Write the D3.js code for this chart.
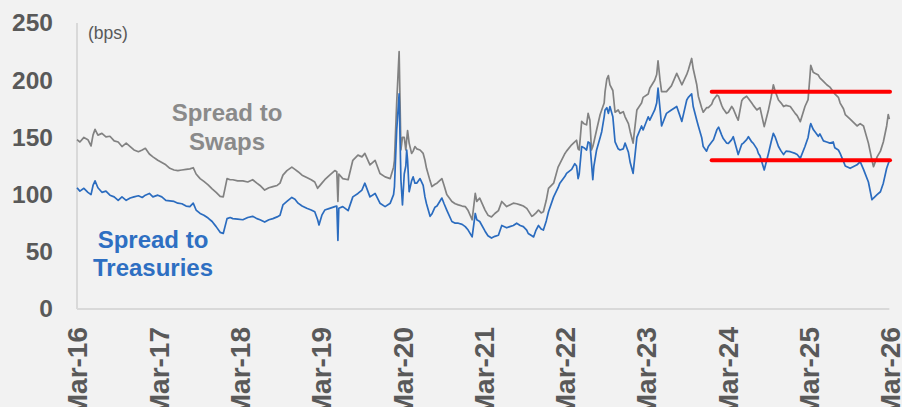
<!DOCTYPE html>
<html><head><meta charset="utf-8">
<script src="https://cdn.jsdelivr.net/npm/d3@7"></script>
<style>
html,body{margin:0;padding:0;background:#f2f2f2;}
svg{display:block;font-family:"Liberation Sans",Arial,sans-serif;}
</style></head>
<body><svg id="c" width="902" height="407"></svg>
<script>
const dates = ["2016-03-31","2016-04-13","2016-05-01","2016-05-19","2016-06-02","2016-06-11","2016-06-20","2016-07-03","2016-07-21","2016-08-08","2016-08-26","2016-09-14","2016-10-02","2016-10-19","2016-11-07","2016-11-25","2016-12-12","2017-01-01","2017-01-18","2017-02-01","2017-02-19","2017-03-07","2017-03-29","2017-04-16","2017-05-04","2017-05-22","2017-06-10","2017-06-27","2017-07-15","2017-08-03","2017-08-20","2017-09-04","2017-09-17","2017-10-05","2017-10-22","2017-11-10","2017-11-28","2017-12-16","2018-01-03","2018-01-17","2018-02-03","2018-02-17","2018-03-01","2018-03-23","2018-04-15","2018-05-07","2018-05-29","2018-06-17","2018-07-01","2018-07-22","2018-08-10","2018-08-28","2018-09-16","2018-09-29","2018-10-12","2018-10-30","2018-11-21","2018-12-05","2018-12-19","2019-01-06","2019-01-27","2019-02-16","2019-03-04","2019-03-17","2019-03-23","2019-04-05","2019-04-18","2019-05-10","2019-06-02","2019-06-11","2019-06-16","2019-06-20","2019-07-08","2019-08-01","2019-08-22","2019-09-14","2019-10-02","2019-10-15","2019-11-07","2019-11-30","2019-12-22","2020-01-14","2020-02-06","2020-02-21","2020-02-25","2020-03-06","2020-03-17","2020-03-25","2020-04-01","2020-04-09","2020-04-16","2020-04-20","2020-04-24","2020-05-01","2020-05-12","2020-05-19","2020-05-27","2020-06-04","2020-06-19","2020-07-03","2020-07-11","2020-07-18","2020-08-03","2020-08-11","2020-08-25","2020-09-03","2020-09-25","2020-10-05","2020-10-17","2020-11-09","2020-11-24","2020-12-08","2020-12-25","2021-01-08","2021-01-21","2021-02-08","2021-02-22","2021-03-01","2021-03-14","2021-04-07","2021-04-20","2021-05-06","2021-05-21","2021-06-06","2021-06-21","2021-07-13","2021-07-27","2021-08-12","2021-08-27","2021-09-12","2021-09-26","2021-10-11","2021-10-18","2021-11-03","2021-11-11","2021-11-22","2021-12-03","2021-12-15","2021-12-25","2022-01-07","2022-01-17","2022-02-09","2022-03-01","2022-03-09","2022-04-01","2022-04-08","2022-05-01","2022-05-15","2022-05-23","2022-05-30","2022-06-04","2022-06-15","2022-06-25","2022-07-07","2022-07-14","2022-07-22","2022-07-29","2022-08-04","2022-08-09","2022-08-21","2022-09-06","2022-09-13","2022-09-24","2022-09-28","2022-10-06","2022-10-13","2022-10-20","2022-11-02","2022-11-12","2022-11-26","2022-12-04","2022-12-19","2022-12-27","2023-01-11","2023-01-19","2023-02-01","2023-02-18","2023-03-11","2023-03-18","2023-04-10","2023-04-17","2023-05-09","2023-05-18","2023-05-24","2023-06-02","2023-06-09","2023-07-01","2023-07-23","2023-08-16","2023-09-08","2023-09-30","2023-10-07","2023-10-22","2023-10-29","2023-11-14","2023-11-21","2023-12-06","2023-12-13","2023-12-28","2024-01-05","2024-01-20","2024-01-28","2024-02-13","2024-02-20","2024-03-05","2024-03-12","2024-03-27","2024-04-04","2024-04-19","2024-04-26","2024-05-11","2024-05-18","2024-06-03","2024-06-10","2024-06-25","2024-07-03","2024-07-18","2024-07-25","2024-08-10","2024-08-17","2024-08-24","2024-09-12","2024-10-01","2024-10-13","2024-10-23","2024-11-01","2024-11-15","2024-11-27","2024-12-08","2024-12-19","2025-01-07","2025-01-29","2025-02-07","2025-02-21","2025-03-14","2025-03-28","2025-04-06","2025-04-09","2025-04-20","2025-04-28","2025-05-13","2025-05-20","2025-06-05","2025-06-20","2025-07-04","2025-07-19","2025-07-26","2025-08-11","2025-08-19","2025-09-03","2025-09-11","2025-10-03","2025-11-03","2025-11-17","2025-12-02","2025-12-24","2026-01-09","2026-01-16","2026-02-01","2026-02-16","2026-03-01","2026-03-16","2026-03-23","2026-03-28"];

const spreadToSwaps = [148,146,150,148,142.5,152,157,152,153.5,150.5,151,147,146,142,145,142,139,137.5,139,140.5,135.5,133,130,128,126,123,121.5,121,121.5,122,122.5,123.5,118,114,111.5,108.5,105,102,98.5,98,114,113,113,112,112,111,113,110,108,104,106,107,108,110,117,121,124,122,120,117,115,113,111,105.5,107,110,113,117,121,120,94,118,114,113,130,134.5,133,136,126,130,118.5,115.5,114,124,130,180,225,139,150,150,139,148,156,145,136,138,142,140,139,136,130,123,112,107,109,110,114,108,100,94,92,91,90,89.5,86,78,101,94,97,86.5,82,80.5,83.5,86,94,89.5,91,92.5,92,91,90,88,86,81,82,84,86.5,84,85,95,105.5,110,124,127,136,138,143.5,146,147.5,140,139,164,162,161,171,165,139,142,146,156.5,170,174,180,190,201,204,196,191,172,174,171,172.5,168,162,155,145,174,180,185,188,193,200,205,217,200,190,190,195,206,196,205,209,219,210,196,186,176,172,176,176,179,183,187,186,178,175,171,172,177,175,168,165,182,184,186,184,180,178,174,175,176,159.4,174,185,196,190,182.7,180,177,178,177,171,169,163.7,177,183,205,213,207,206,204.5,202,199,196,194,190,188,185,180,175,170,166,160,162,160,145,130,124.4,133,138,146,160,170,166];

const spreadToTreasuries = [106,103,105.5,102,100,108,112,106,102,103,99.5,98,95,98,95,97,98,99,97.5,99.5,101,98,99.5,98,95,94.5,94,92.5,92,90,89.5,92.5,86.5,83.5,82,79.5,76.5,72,67,66,79,80,79,78.5,78,80,81,79,78,76,78,79,80.5,82,91,94,97.5,96,92.5,90,88,86.5,85,78,73.5,82,86.5,88,89.5,90,60,88,89.5,86,98,101,104,110,98,101,92.5,89.5,92.5,100,107,156,188,113,91,118,125,139,130,102.5,112,115.5,110,110,114,108,98,92,81,83,89,90,97,92,86.5,76.5,75,75,74,72,69,63,83.5,78,76.5,68,64,62,63.5,64.5,73,71,72,73,75,73,72,69,66,64,63,69,73,70,69,77,85,98,106,110,116,118.5,122,127,125,114,118,142,141,139,146,145,128,113,125,139,150,155,168,174,176,171,177,168,146,140,139,140,145,137,128,118.6,150,160,156.5,168,165,174,180,193,175,160,171,174,177,164,182.7,185,188,177,165,160,150,142,138,142,146,148,157,159,152,149,145,144.8,148,150.6,140,135,144,145,148,150.6,146,144.8,140,136,134,121.5,136,146,153.6,150,142,138,135,138,137.5,136,135,131.7,142,150,160,162,157,155,151,153,147,146,145,146,141,139,136,129,125,123,126,128.8,122,111,95.5,97,100,102.5,110,123,127,129.6];

const yTicks = [0, 50, 100, 150, 200, 250];
const xTickDates = ["2016-03-31","2017-03-31","2018-03-31","2019-03-31","2020-03-31","2021-03-31","2022-03-31","2023-03-31","2024-03-31","2025-03-31","2026-03-31"];
const rangeLevels = [190, 130];
const rangePeriod = ["2024-01-20", "2026-03-31"];
const unitLabel = "(bps)";
const swapsLabel = ["Spread to", "Swaps"];
const tsyLabel = ["Spread to", "Treasuries"];

const parse = d3.timeParse("%Y-%m-%d");
const svg = d3.select("#c");
const pL = 77, pR = 890, pT = 23, pB = 309;

const x = d3.scaleTime().domain([parse(xTickDates[0]), parse(xTickDates[xTickDates.length-1])]).range([pL, pR]);
const y = d3.scaleLinear().domain([0, 250]).range([pB, pT]);

const textCol = "#595959";
const grayCol = "#828282";
const blueCol = "#2b6cbf";

svg.append("rect").attr("width",902).attr("height",407).attr("fill","#f2f2f2");

svg.append("line").attr("x1",pL).attr("x2",pL).attr("y1",y(250)).attr("y2",pB)
  .attr("stroke","#d9d9d9").attr("stroke-width",2);
svg.append("line").attr("x1",pL).attr("x2",x(parse(dates[dates.length-1]))).attr("y1",pB).attr("y2",pB)
  .attr("stroke","#d9d9d9").attr("stroke-width",2);

const yAxis = d3.axisLeft(y).tickValues(yTicks).tickSize(0).tickPadding(24);
const gy = svg.append("g").attr("transform",`translate(${pL},0)`).call(yAxis);
gy.select(".domain").remove();
gy.selectAll("text").attr("fill",textCol).attr("font-size",24.5).attr("font-weight","bold")
  .attr("font-family","'Liberation Sans',Arial,sans-serif");

const fmt = d3.timeFormat("%b-%y");
const xAxis = d3.axisBottom(x).tickValues(xTickDates.map(parse)).tickSize(0).tickFormat(fmt);
const gx = svg.append("g").attr("transform",`translate(0,${pB})`).call(xAxis);
gx.select(".domain").remove();
gx.selectAll("text").attr("fill",textCol).attr("font-size",28).attr("font-weight","bold")
  .attr("font-family","'Liberation Sans',Arial,sans-serif")
  .attr("text-anchor","end").attr("dy","0.35em").attr("y",0)
  .attr("transform","translate(0,18) rotate(-90)");

const n = Math.min(dates.length, spreadToSwaps.length, spreadToTreasuries.length);
const swapsData = d3.range(n).map(i=>({d:parse(dates[i]), v:spreadToSwaps[i]}));
const tsyData = d3.range(n).map(i=>({d:parse(dates[i]), v:spreadToTreasuries[i]}));
const line = d3.line().x(p=>x(p.d)).y(p=>y(p.v));
svg.append("path").datum(swapsData).attr("d",line).attr("fill","none")
  .attr("stroke",grayCol).attr("stroke-width",1.7).attr("stroke-linejoin","round");
svg.append("path").datum(tsyData).attr("d",line).attr("fill","none")
  .attr("stroke",blueCol).attr("stroke-width",1.7).attr("stroke-linejoin","round");

svg.selectAll(".lvl").data(rangeLevels).enter().append("line")
  .attr("x1",x(parse(rangePeriod[0]))).attr("x2",x(parse(rangePeriod[1])))
  .attr("y1",d=>y(d)).attr("y2",d=>y(d))
  .attr("stroke","#ff0000").attr("stroke-width",4).attr("stroke-linecap","round");

svg.append("text").attr("x",88).attr("y",39).text(unitLabel)
  .attr("fill",textCol).attr("font-size",17.5);
const sw = svg.append("text").attr("fill","#8a8a8a").attr("font-size",24).attr("font-weight","bold").attr("text-anchor","middle");
swapsLabel.forEach((t,i)=>sw.append("tspan").attr("x",227).attr("y",121+i*29).text(t));
const ts = svg.append("text").attr("fill","#2e6fc2").attr("font-size",24).attr("font-weight","bold").attr("text-anchor","middle");
tsyLabel.forEach((t,i)=>ts.append("tspan").attr("x",153).attr("y",248+i*28).text(t));
</script></body></html>
